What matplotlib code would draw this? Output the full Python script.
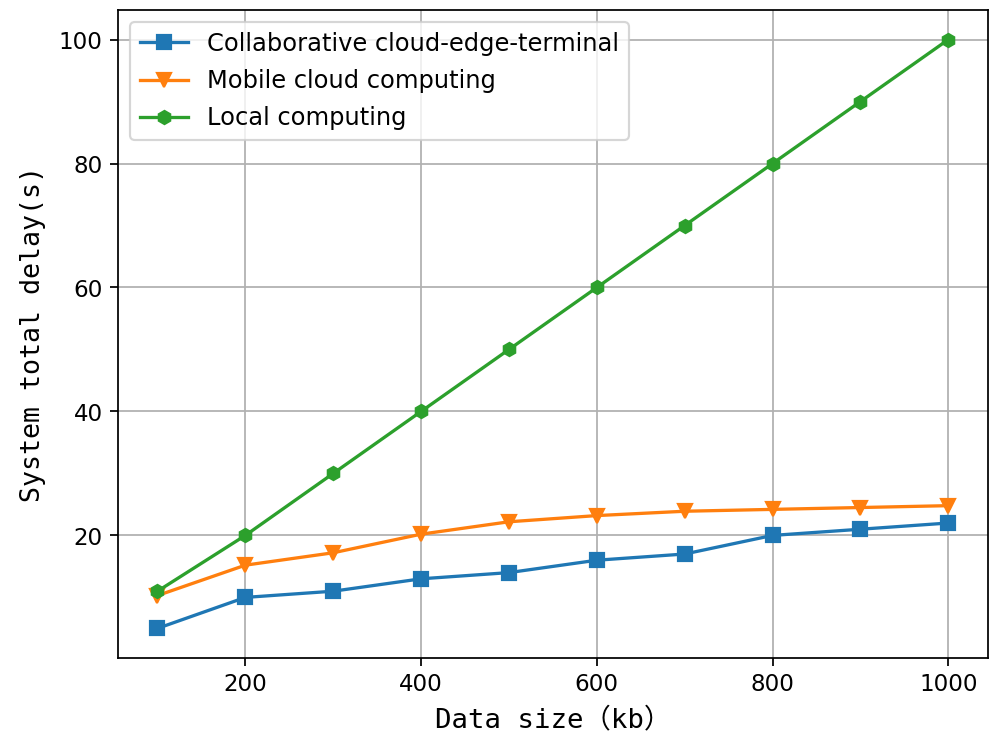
import numpy as np
import matplotlib
matplotlib.use('Agg')
import matplotlib.pyplot as plt

data_size = [100, 200, 300, 400, 500, 600, 700, 800, 900, 1000]
cloud_edge = [5, 10, 11, 13, 14, 16, 17, 20, 21, 22]
mobile_cloud = [10.3, 15.2, 17.2, 20.2, 22.2, 23.2, 23.9, 24.2, 24.5, 24.8]
local = [11, 20, 30, 40, 50, 60, 70, 80, 90, 100]

label_font = ['DejaVu Sans Mono', 'Noto Sans CJK SC']

fig = plt.figure(figsize=(6.4, 4.7), dpi=157.5)
ax = fig.add_axes([0.117, 0.111, 0.863, 0.875])

ax.plot(data_size, cloud_edge, marker='s', label='Collaborative cloud-edge-terminal')
ax.plot(data_size, mobile_cloud, marker='v', label='Mobile cloud computing')
ax.plot(data_size, local, marker='h', label='Local computing')

ax.set_xlabel('Data size（kb）', family=label_font, fontsize=12.5, labelpad=5)
ax.set_ylabel('System total delay(s)', family=label_font, fontsize=12.2, labelpad=6)
ax.tick_params(labelsize=10.5)
ax.grid(True)
ax.legend(loc='upper left', fontsize=11, labelspacing=0.55)

fig.savefig('out.png')
